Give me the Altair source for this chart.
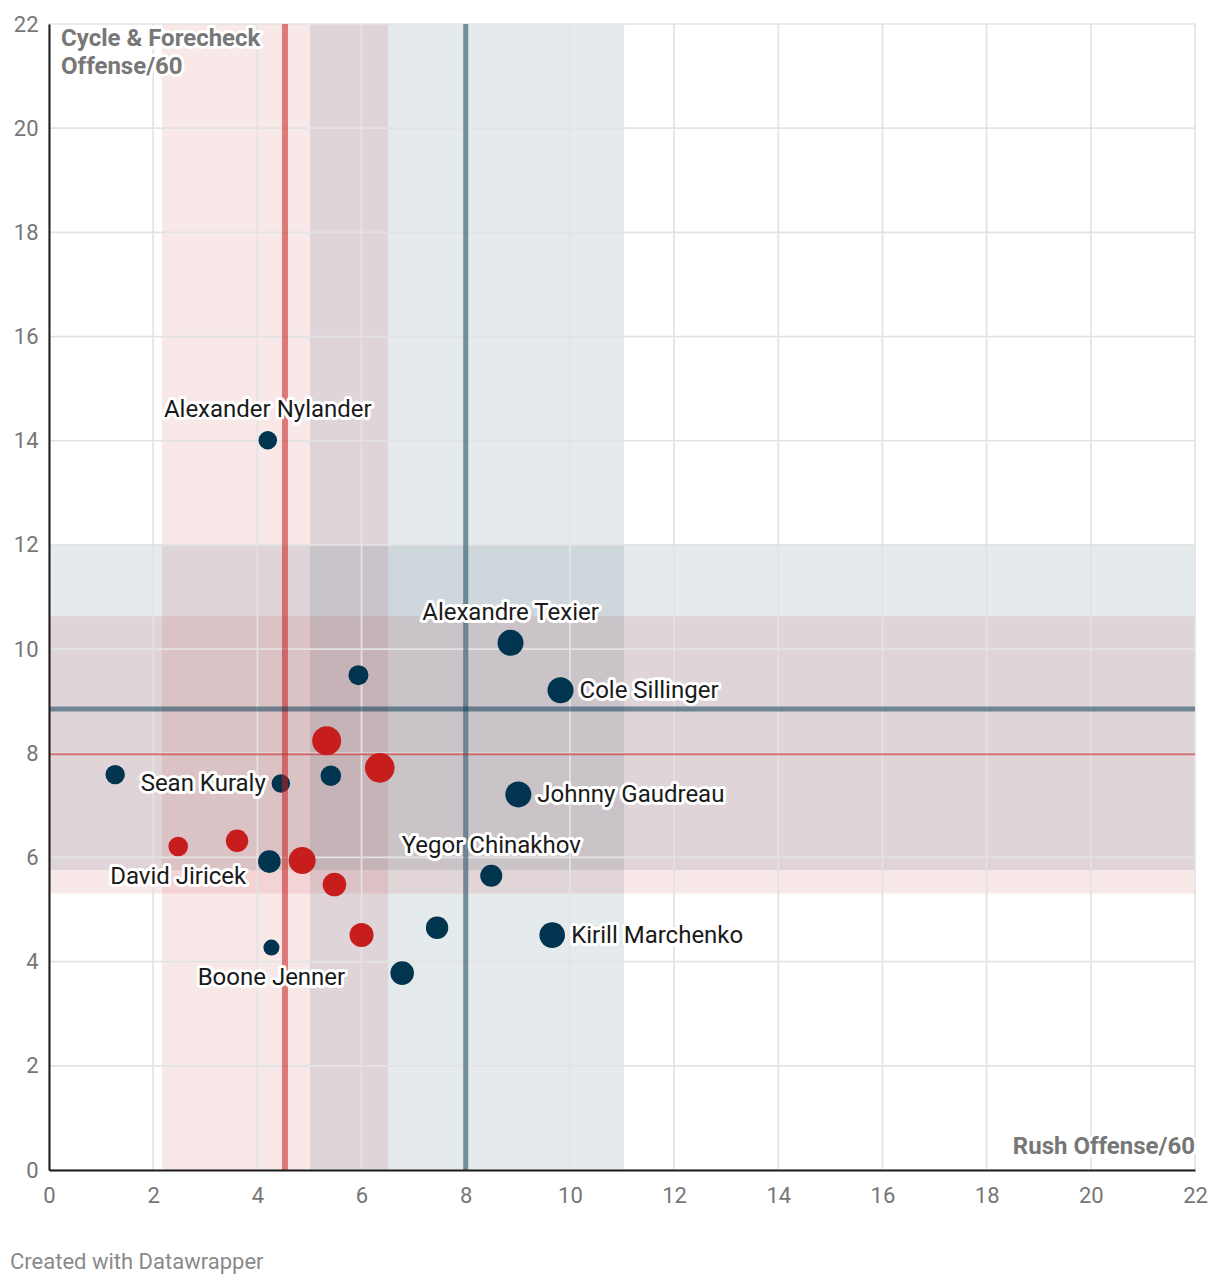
import altair as alt
import pandas as pd

# ---------------- data ----------------
navy_names = ["Alexander Nylander", "", "Alexandre Texier", "Cole Sillinger", "",
              "Sean Kuraly", "", "Johnny Gaudreau", "", "Yegor Chinakhov", "",
              "Kirill Marchenko", "Boone Jenner", ""]
navy_x = [4.20, 5.94, 8.86, 9.82, 1.27, 4.45, 5.41, 9.01, 4.23, 8.49, 7.45, 9.66, 4.27, 6.78]
navy_y = [14.01, 9.50, 10.12, 9.21, 7.59, 7.42, 7.57, 7.21, 5.92, 5.65, 4.65, 4.51, 4.27, 3.78]
navy_w = [86, 100, 169, 169, 94, 85, 106, 169, 128, 121, 125, 164, 64, 139]
navy_pos = ["above", "", "above", "right", "", "left", "", "right", "", "above", "",
            "right", "below", ""]

red_names = ["", "", "David Jiricek", "", "", "", ""]
red_x = [5.33, 6.35, 2.48, 3.61, 4.86, 5.48, 6.00]
red_y = [8.24, 7.72, 6.21, 6.32, 5.94, 5.48, 4.51]
red_w = [210, 219, 96, 125, 182, 139, 144]
red_pos = ["", "", "below", "", "", "", ""]

# average bands (lo, hi) and average lines
red_band_x = [2.17, 6.51]
red_band_y = [5.31, 10.63]
navy_band_x = [5.01, 11.04]
navy_band_y = [5.76, 12.01]
red_avg_x = 4.53
red_avg_y = 7.98
navy_avg_x = 8.00
navy_avg_y = 8.85

tick_values = [0, 2, 4, 6, 8, 10, 12, 14, 16, 18, 20, 22]

# ---------------- tables ----------------
pts = pd.DataFrame({
    "team": ["navy"] * len(navy_x) + ["red"] * len(red_x),
    "x": navy_x + red_x,
    "y": navy_y + red_y,
    "w": navy_w + red_w,
    "name": navy_names + red_names,
    "pos": navy_pos + red_pos,
})
vbands = pd.DataFrame({"team": ["red", "navy"],
                       "lo": [red_band_x[0], navy_band_x[0]],
                       "hi": [red_band_x[1], navy_band_x[1]],
                       "a": [0, 0], "b": [22, 22]})
hbands = pd.DataFrame({"team": ["red", "navy"],
                       "lo": [red_band_y[0], navy_band_y[0]],
                       "hi": [red_band_y[1], navy_band_y[1]],
                       "a": [0, 0], "b": [22, 22]})
ticks = pd.DataFrame({"v": tick_values, "a": 0, "b": 22})
one = pd.DataFrame({"k": [0]})

RED = "#c71e1d"
NAVY = "#00344f"
FONT = "Roboto"
W = 1146
H = 1146

xs = alt.Scale(domain=[0, 22], nice=False, zero=False)
ys = alt.Scale(domain=[0, 22], nice=False, zero=False)
cs = alt.Scale(domain=["navy", "red"], range=[NAVY, RED])

axis_common = dict(values=tick_values, labelFontSize=22, labelColor="#767676",
                   labelFont=FONT, ticks=False, grid=False, domainColor="#1a1a1a",
                   domainWidth=2, title=None, labelFlush=False, zindex=1)
x_axis = alt.Axis(orient="bottom", labelPadding=15, **axis_common)
y_axis = alt.Axis(orient="left", labelPadding=11, **axis_common)


def X(f):
    return alt.X(f, scale=xs, axis=x_axis)


def Y(f):
    return alt.Y(f, scale=ys, axis=y_axis)


vb = alt.Chart(vbands).mark_rect(opacity=0.1).encode(
    x=X("lo:Q"), x2="hi:Q", y=Y("a:Q"), y2="b:Q",
    color=alt.Color("team:N", scale=cs, legend=None))
hb = alt.Chart(hbands).mark_rect(opacity=0.1).encode(
    y=Y("lo:Q"), y2="hi:Q", x=X("a:Q"), x2="b:Q",
    color=alt.Color("team:N", scale=cs, legend=None))

gx = alt.Chart(ticks).mark_rule(color="#e3e3e3", strokeWidth=1.7).encode(
    x=X("v:Q"), y=Y("a:Q"), y2="b:Q")
gy = alt.Chart(ticks).mark_rule(color="#e3e3e3", strokeWidth=1.7).encode(
    y=Y("v:Q"), x=X("a:Q"), x2="b:Q")

# Vega symbol size is the area of the bounding square: 4 * r^2
dots = alt.Chart(pts).mark_circle(opacity=1).encode(
    x=X("x:Q"),
    y=Y("y:Q"),
    size=alt.Size("w:Q", scale=alt.Scale(domain=[0, 225], range=[0, 900],
                                         nice=False, zero=True), legend=None),
    color=alt.Color("team:N", scale=cs, legend=None))

refs_v = pd.DataFrame({"v": [red_avg_x], "a": 0, "b": 22})
refs_v2 = pd.DataFrame({"v": [navy_avg_x], "a": 0, "b": 22})
refs_h = pd.DataFrame({"v": [navy_avg_y], "a": 0, "b": 22})
refs_h2 = pd.DataFrame({"v": [red_avg_y], "a": 0, "b": 22})

lines = [
    alt.Chart(refs_v).mark_rule(color=RED, opacity=0.55, strokeWidth=6).encode(
        x=X("v:Q"), y=Y("a:Q"), y2="b:Q"),
    alt.Chart(refs_v2).mark_rule(color=NAVY, opacity=0.5, strokeWidth=5).encode(
        x=X("v:Q"), y=Y("a:Q"), y2="b:Q"),
    alt.Chart(refs_h).mark_rule(color=NAVY, opacity=0.5, strokeWidth=5).encode(
        y=Y("v:Q"), x=X("a:Q"), x2="b:Q"),
    alt.Chart(refs_h2).mark_rule(color=RED, opacity=0.55, strokeWidth=2).encode(
        y=Y("v:Q"), x=X("a:Q"), x2="b:Q"),
]

label_specs = {
    "above": dict(align="center", dx=0, dy=-30),
    "below": dict(align="center", dx=0, dy=30),
    "right": dict(align="left", dx=19, dy=1),
    "left": dict(align="right", dx=-15, dy=1),
}
label_layers = []
for halo in (True, False):
    for pos, spec in label_specs.items():
        kw = dict(font=FONT, fontSize=24, baseline="middle", **spec)
        if halo:
            kw.update(stroke="white", strokeWidth=6, strokeJoin="round", fill="white")
        else:
            kw.update(fill="#1a1a1a")
        label_layers.append(
            alt.Chart(pts).transform_filter(alt.datum.pos == pos).mark_text(**kw).encode(
                x=X("x:Q"), y=Y("y:Q"), text="name:N"))


def note(text, x, y, align, size, bold, color, halo):
    kw = dict(font=FONT, fontSize=size, fontWeight="bold" if bold else "normal",
              align=align, baseline="middle", lineHeight=28)
    layers = []
    if halo:
        layers.append(alt.Chart(one).mark_text(stroke="white", strokeWidth=6,
                                               strokeJoin="round", fill="white", **kw).encode(
            x=alt.value(x), y=alt.value(y), text=alt.value(text)))
    layers.append(alt.Chart(one).mark_text(fill=color, **kw).encode(
        x=alt.value(x), y=alt.value(y), text=alt.value(text)))
    return layers


notes = (note(["Cycle & Forecheck", "Offense/60"], 12, 15, "left", 24, True, "#777777", True)
         + note("Rush Offense/60", W, 1123, "right", 24, True, "#777777", True)
         + note("Created with Datawrapper", -39, 1238, "left", 22, False, "#8a8a8a", False))

chart = alt.layer(vb, hb, gx, gy, dots, *lines, *label_layers, *notes).properties(
    width=W, height=H,
    autosize=alt.AutoSizeParams(type="none"),
    padding={"left": 41, "top": 16, "right": 15, "bottom": 106},
).configure_view(stroke=None)

chart.save("out.html", embed_options={"renderer": "svg", "actions": False})
